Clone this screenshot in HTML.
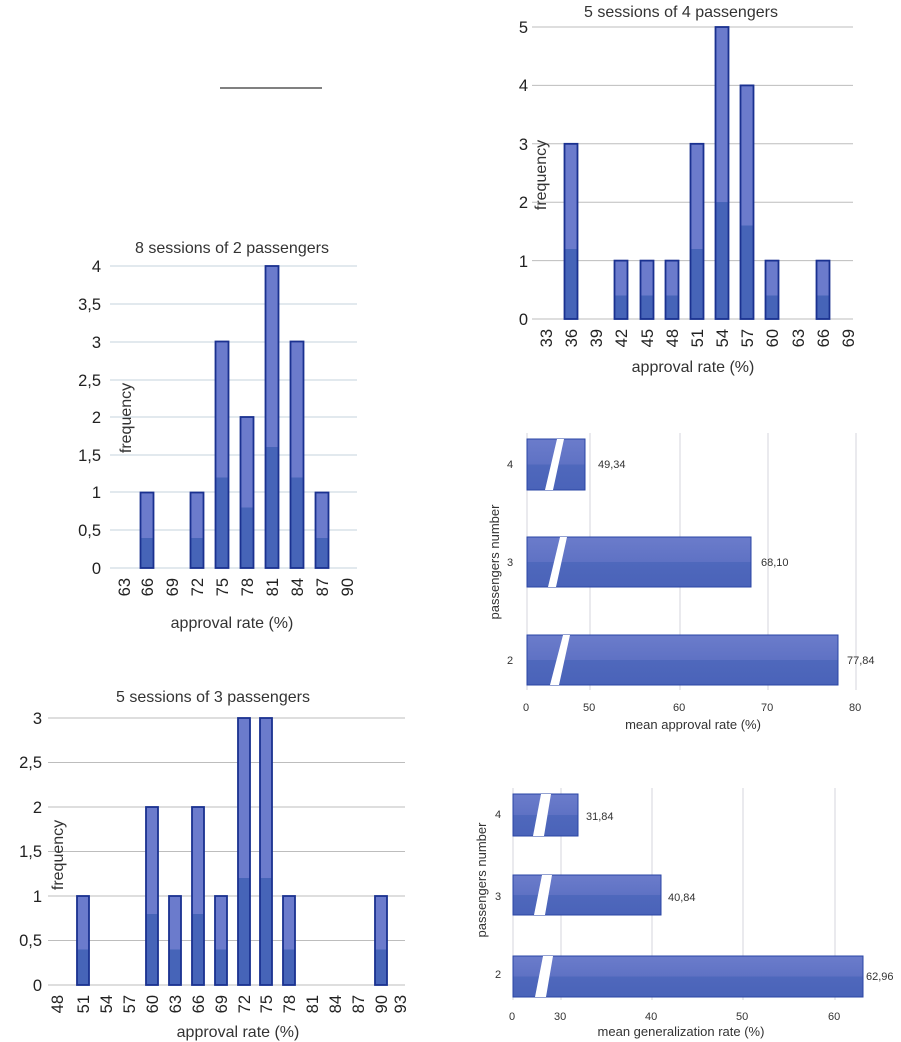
<!DOCTYPE html>
<html><head><meta charset="utf-8"><style>
html,body{margin:0;padding:0;background:#fff}
svg{display:block;font-family:"Liberation Sans",sans-serif}
</style></head><body>
<svg width="901" height="1042" viewBox="0 0 901 1042" xmlns="http://www.w3.org/2000/svg">
<defs>
<linearGradient id="gv" x1="0" y1="0" x2="0" y2="1">
<stop offset="0" stop-color="#6b7bcc"/><stop offset="0.6" stop-color="#6b7bcc"/><stop offset="0.6" stop-color="#4664b8"/><stop offset="1" stop-color="#4664b8"/></linearGradient>
<linearGradient id="gh" x1="0" y1="0" x2="0" y2="1">
<stop offset="0" stop-color="#6b7ccb"/><stop offset="0.5" stop-color="#5f72c4"/><stop offset="0.5" stop-color="#4f68bc"/><stop offset="1" stop-color="#4a63b9"/></linearGradient>
</defs>
<line x1="220" y1="88" x2="322" y2="88" stroke="#000" stroke-width="1"/>

<!-- Chart 1 -->
<g>
<text x="232" y="253" font-size="16" text-anchor="middle" fill="#333">8 sessions of 2 passengers</text>
<g stroke="#c6d3dc" stroke-width="1">
<line x1="110" y1="266" x2="357" y2="266"/><line x1="110" y1="304" x2="357" y2="304"/><line x1="110" y1="342" x2="357" y2="342"/><line x1="110" y1="380" x2="357" y2="380"/><line x1="110" y1="417" x2="357" y2="417"/><line x1="110" y1="455" x2="357" y2="455"/><line x1="110" y1="492" x2="357" y2="492"/><line x1="110" y1="530" x2="357" y2="530"/><line x1="110" y1="568" x2="357" y2="568"/>
</g>
<g font-size="16.5" text-anchor="end" fill="#222">
<text x="101" y="272">4</text><text x="101" y="310">3,5</text><text x="101" y="348">3</text><text x="101" y="386">2,5</text><text x="101" y="423">2</text><text x="101" y="461">1,5</text><text x="101" y="498">1</text><text x="101" y="536">0,5</text><text x="101" y="574">0</text>
</g>
<g fill="url(#gv)" stroke="#1a3190" stroke-width="1.8">
<rect x="140.5" y="492.5" width="13" height="75.5"/><rect x="190.5" y="492.5" width="13" height="75.5"/><rect x="215.5" y="341.5" width="13" height="226.5"/><rect x="240.5" y="417" width="13" height="151"/><rect x="265.5" y="266" width="13" height="302"/><rect x="290.5" y="341.5" width="13" height="226.5"/><rect x="315.5" y="492.5" width="13" height="75.5"/>
</g>
<g font-size="16.5" text-anchor="end" fill="#222">
<text transform="translate(130,578) rotate(-90)">63</text><text transform="translate(153,578) rotate(-90)">66</text><text transform="translate(178,578) rotate(-90)">69</text><text transform="translate(203,578) rotate(-90)">72</text><text transform="translate(228,578) rotate(-90)">75</text><text transform="translate(253,578) rotate(-90)">78</text><text transform="translate(278,578) rotate(-90)">81</text><text transform="translate(303,578) rotate(-90)">84</text><text transform="translate(328,578) rotate(-90)">87</text><text transform="translate(353,578) rotate(-90)">90</text>
</g>
<text x="232" y="628" font-size="16" text-anchor="middle" fill="#333">approval rate (%)</text>
<text transform="translate(131,418) rotate(-90)" font-size="16" text-anchor="middle" fill="#333">frequency</text>
</g>

<!-- Chart 2 -->
<g>
<text x="213" y="702" font-size="16" text-anchor="middle" fill="#333">5 sessions of 3 passengers</text>
<g stroke="#bdbdbd" stroke-width="1">
<line x1="48" y1="718" x2="405" y2="718"/><line x1="48" y1="762.5" x2="405" y2="762.5"/><line x1="48" y1="807" x2="405" y2="807"/><line x1="48" y1="851.5" x2="405" y2="851.5"/><line x1="48" y1="896" x2="405" y2="896"/><line x1="48" y1="940.5" x2="405" y2="940.5"/><line x1="48" y1="985" x2="405" y2="985"/>
</g>
<g font-size="16.5" text-anchor="end" fill="#222">
<text x="42" y="724">3</text><text x="42" y="768">2,5</text><text x="42" y="813">2</text><text x="42" y="857">1,5</text><text x="42" y="902">1</text><text x="42" y="946">0,5</text><text x="42" y="991">0</text>
</g>
<g fill="url(#gv)" stroke="#1a3190" stroke-width="1.8">
<rect x="77" y="896" width="12" height="89"/><rect x="146" y="807" width="12" height="178"/><rect x="169" y="896" width="12" height="89"/><rect x="192" y="807" width="12" height="178"/><rect x="215" y="896" width="12" height="89"/><rect x="238" y="718" width="12" height="267"/><rect x="260" y="718" width="12" height="267"/><rect x="283" y="896" width="12" height="89"/><rect x="375" y="896" width="12" height="89"/>
</g>
<g font-size="16.5" text-anchor="end" fill="#222">
<text transform="translate(63,995) rotate(-90)">48</text><text transform="translate(89,995) rotate(-90)">51</text><text transform="translate(112,995) rotate(-90)">54</text><text transform="translate(135,995) rotate(-90)">57</text><text transform="translate(158,995) rotate(-90)">60</text><text transform="translate(181,995) rotate(-90)">63</text><text transform="translate(204,995) rotate(-90)">66</text><text transform="translate(227,995) rotate(-90)">69</text><text transform="translate(250,995) rotate(-90)">72</text><text transform="translate(272,995) rotate(-90)">75</text><text transform="translate(295,995) rotate(-90)">78</text><text transform="translate(318,995) rotate(-90)">81</text><text transform="translate(341,995) rotate(-90)">84</text><text transform="translate(364,995) rotate(-90)">87</text><text transform="translate(387,995) rotate(-90)">90</text><text transform="translate(406,995) rotate(-90)">93</text>
</g>
<text x="238" y="1037" font-size="16" text-anchor="middle" fill="#333">approval rate (%)</text>
<text transform="translate(63,855) rotate(-90)" font-size="16" text-anchor="middle" fill="#333">frequency</text>
</g>

<!-- Chart 3 -->
<g>
<text x="681" y="17" font-size="16" text-anchor="middle" fill="#333">5 sessions of 4 passengers</text>
<g stroke="#bdbdbd" stroke-width="1">
<line x1="532" y1="27" x2="853" y2="27"/><line x1="532" y1="85.4" x2="853" y2="85.4"/><line x1="532" y1="143.8" x2="853" y2="143.8"/><line x1="532" y1="202.2" x2="853" y2="202.2"/><line x1="532" y1="260.6" x2="853" y2="260.6"/><line x1="532" y1="319" x2="853" y2="319"/>
</g>
<g font-size="16.5" text-anchor="end" fill="#222">
<text x="528" y="33">5</text><text x="528" y="91">4</text><text x="528" y="150">3</text><text x="528" y="208">2</text><text x="528" y="267">1</text><text x="528" y="325">0</text>
</g>
<g fill="url(#gv)" stroke="#1a3190" stroke-width="1.8">
<rect x="564.5" y="143.8" width="13" height="175.2"/><rect x="614.5" y="260.6" width="13" height="58.4"/><rect x="640.5" y="260.6" width="13" height="58.4"/><rect x="665.5" y="260.6" width="13" height="58.4"/><rect x="690.5" y="143.8" width="13" height="175.2"/><rect x="715.5" y="27" width="13" height="292"/><rect x="740.5" y="85.4" width="13" height="233.6"/><rect x="765.5" y="260.6" width="13" height="58.4"/><rect x="816.5" y="260.6" width="13" height="58.4"/>
</g>
<g font-size="16.5" text-anchor="end" fill="#222">
<text transform="translate(552,329) rotate(-90)">33</text><text transform="translate(577,329) rotate(-90)">36</text><text transform="translate(602,329) rotate(-90)">39</text><text transform="translate(627,329) rotate(-90)">42</text><text transform="translate(653,329) rotate(-90)">45</text><text transform="translate(678,329) rotate(-90)">48</text><text transform="translate(703,329) rotate(-90)">51</text><text transform="translate(728,329) rotate(-90)">54</text><text transform="translate(753,329) rotate(-90)">57</text><text transform="translate(778,329) rotate(-90)">60</text><text transform="translate(804,329) rotate(-90)">63</text><text transform="translate(829,329) rotate(-90)">66</text><text transform="translate(854,329) rotate(-90)">69</text>
</g>
<text x="693" y="372" font-size="16" text-anchor="middle" fill="#333">approval rate (%)</text>
<text transform="translate(546,175) rotate(-90)" font-size="16" text-anchor="middle" fill="#333">frequency</text>
</g>

<!-- Chart 4 -->
<g>
<g stroke="#d4d4dc" stroke-width="1">
<line x1="527" y1="433" x2="527" y2="690"/><line x1="590" y1="433" x2="590" y2="690"/><line x1="680" y1="433" x2="680" y2="690"/><line x1="768" y1="433" x2="768" y2="690"/><line x1="856" y1="433" x2="856" y2="690"/>
</g>
<g fill="url(#gh)" stroke="#2a44a4" stroke-width="1">
<rect x="527" y="439" width="58" height="51"/><rect x="527" y="537" width="224" height="50"/><rect x="527" y="635" width="311" height="50"/>
</g>
<g fill="#fff">
<polygon points="557,439 564,439 553,490 545,490"/><polygon points="560,537 567,537 556,587 548,587"/><polygon points="563,635 570,635 559,685 550,685"/>
</g>
<g font-size="11" fill="#333">
<text x="507" y="468">4</text><text x="507" y="566">3</text><text x="507" y="664">2</text>
<text x="598" y="468">49,34</text><text x="761" y="566">68,10</text><text x="847" y="664">77,84</text>
<text x="523" y="711">0</text><text x="583" y="711">50</text><text x="673" y="711">60</text><text x="761" y="711">70</text><text x="849" y="711">80</text>
</g>
<text x="693" y="729" font-size="13" text-anchor="middle" fill="#333">mean approval rate (%)</text>
<text transform="translate(499,562) rotate(-90)" font-size="13" text-anchor="middle" fill="#333">passengers number</text>
</g>

<!-- Chart 5 -->
<g>
<g stroke="#d4d4dc" stroke-width="1">
<line x1="513" y1="788" x2="513" y2="1000"/><line x1="561" y1="788" x2="561" y2="1000"/><line x1="652" y1="788" x2="652" y2="1000"/><line x1="743" y1="788" x2="743" y2="1000"/><line x1="835" y1="788" x2="835" y2="1000"/>
</g>
<g fill="url(#gh)" stroke="#2a44a4" stroke-width="1">
<rect x="513" y="794" width="65" height="42"/><rect x="513" y="875" width="148" height="40"/><rect x="513" y="956" width="350" height="41"/>
</g>
<g fill="#fff">
<polygon points="541,794 551,794 544,836 533,836"/><polygon points="542,875 552,875 545,915 534,915"/><polygon points="543,956 553,956 546,997 535,997"/>
</g>
<g font-size="11" fill="#333">
<text x="495" y="818">4</text><text x="495" y="900">3</text><text x="495" y="978">2</text>
<text x="586" y="820">31,84</text><text x="668" y="901">40,84</text><text x="866" y="980">62,96</text>
<text x="509" y="1020">0</text><text x="554" y="1020">30</text><text x="645" y="1020">40</text><text x="736" y="1020">50</text><text x="828" y="1020">60</text>
</g>
<text x="681" y="1036" font-size="13" text-anchor="middle" fill="#333">mean generalization rate (%)</text>
<text transform="translate(486,880) rotate(-90)" font-size="13" text-anchor="middle" fill="#333">passengers number</text>
</g>
</svg>
</body></html>
